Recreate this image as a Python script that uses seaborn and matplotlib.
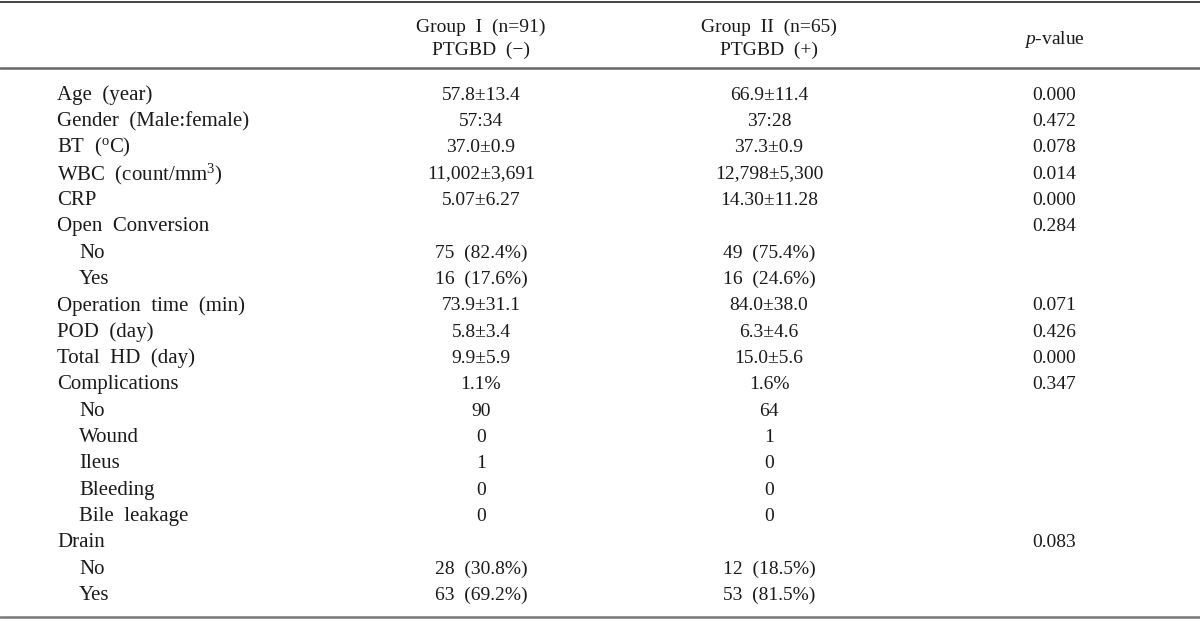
import matplotlib
matplotlib.use("Agg")
import matplotlib.pyplot as plt
import seaborn as sns
import pandas as pd

# table contents
labels = ["Age  (year)", "Gender  (Male:female)", r"BT  ($^{\rm o}$C)",
          r"WBC  (count/mm$^{3}$)", "CRP", "Open  Conversion", "No", "Yes",
          "Operation  time  (min)", "POD  (day)", "Total  HD  (day)",
          "Complications", "No", "Wound", "Ileus", "Bleeding", "Bile  leakage",
          "Drain", "No", "Yes"]
indent = [0, 0, 0, 0, 0, 0, 1, 1, 0, 0, 0, 0, 1, 1, 1, 1, 1, 0, 1, 1]
group1 = ["57.8±13.4", "57:34", "37.0±0.9", "11,002±3,691", "5.07±6.27", "",
          "75  (82.4%)", "16  (17.6%)", "73.9±31.1", "5.8±3.4", "9.9±5.9",
          "1.1%", "90", "0", "1", "0", "0", "", "28  (30.8%)", "63  (69.2%)"]
group2 = ["66.9±11.4", "37:28", "37.3±0.9", "12,798±5,300", "14.30±11.28", "",
          "49  (75.4%)", "16  (24.6%)", "84.0±38.0", "6.3±4.6", "15.0±5.6",
          "1.6%", "64", "1", "0", "0", "0", "", "12  (18.5%)", "53  (81.5%)"]
pvals = ["0.000", "0.472", "0.078", "0.014", "0.000", "0.284", "", "",
         "0.071", "0.426", "0.000", "0.347", "", "", "", "", "", "0.083", "", ""]
headers = ["Group  I  (n=91)\nPTGBD  (\u2212)", "Group  II  (n=65)\nPTGBD  (+)",
           r"$\it{p}$-value"]

df = pd.DataFrame({"label": labels, "indent": indent, "g1": group1,
                   "g2": group2, "p": pvals})

sns.set_theme(style="white")
plt.rcParams["font.family"] = ["Liberation Serif", "DejaVu Serif"]
plt.rcParams["mathtext.fontset"] = "custom"
plt.rcParams["mathtext.rm"] = "Liberation Serif"
plt.rcParams["mathtext.it"] = "Liberation Serif:italic"

fig = plt.figure(figsize=(12, 6.21), dpi=100)
ax = fig.add_axes([0, 0, 1, 1])
ax.set_xlim(0, 1200)
ax.set_ylim(621, 0)
ax.axis("off")

fs = 14
fs_lab = 15
txt = "#1a1a1a"
col_x = [481, 769, 1054]

# header
ax.text(col_x[0], 39, headers[0], ha="center", va="center", fontsize=fs,
        color=txt, linespacing=1.45)
ax.text(col_x[1], 39, headers[1], ha="center", va="center", fontsize=fs,
        color=txt, linespacing=1.45)
ax.text(col_x[2], 39, headers[2], ha="center", va="center", fontsize=fs,
        color=txt)

# rules
ax.axhline(1.5, color="#222222", lw=1.2)
ax.axhline(68, color="#666666", lw=1.8)
ax.axhline(617, color="#777777", lw=1.8)

y0, step = 95, 26.35
for i, row in df.iterrows():
    y = y0 + i * step
    ax.text(57 + 22 * row["indent"], y, row["label"], ha="left", va="center",
            fontsize=fs_lab, color=txt)
    ax.text(col_x[0], y, row["g1"], ha="center", va="center", fontsize=fs, color=txt)
    ax.text(col_x[1], y, row["g2"], ha="center", va="center", fontsize=fs, color=txt)
    ax.text(col_x[2], y, row["p"], ha="center", va="center", fontsize=fs, color=txt)

fig.savefig("out.png", dpi=100, facecolor="white")
